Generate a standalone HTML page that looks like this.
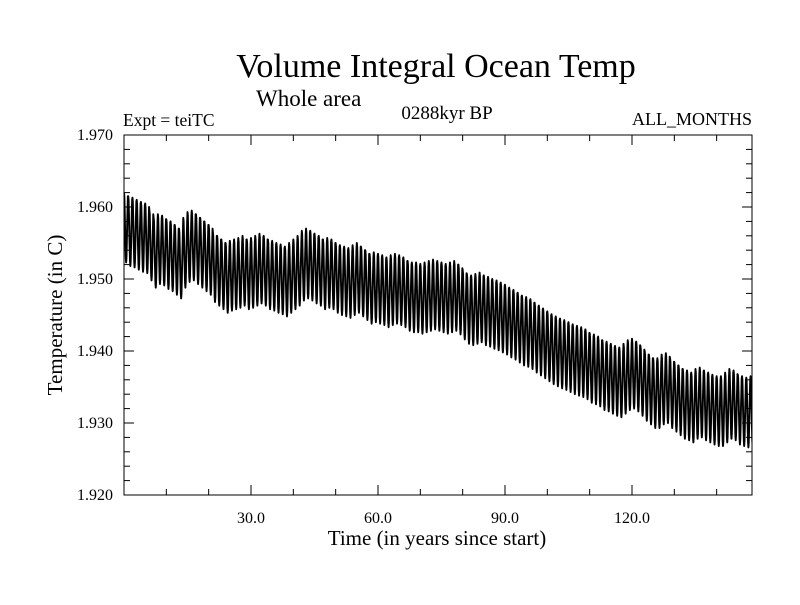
<!DOCTYPE html>
<html><head><meta charset="utf-8"><style>
html,body{margin:0;padding:0;background:#fff;}
svg text{font-family:"Liberation Serif",serif;fill:#000;}
</style></head><body>
<svg id="chart" width="800" height="600" xmlns="http://www.w3.org/2000/svg">
<text x="436" y="77" font-size="34" text-anchor="middle">Volume Integral Ocean Temp</text>
<text x="256" y="106" font-size="23">Whole area</text>
<text x="123" y="126" font-size="17.5">Expt = teiTC</text>
<text x="447" y="119" font-size="19" text-anchor="middle">0288kyr BP</text>
<text x="752" y="125" font-size="18" text-anchor="end">ALL_MONTHS</text>
<text x="437" y="545" font-size="21" text-anchor="middle">Time (in years since start)</text>
<text transform="translate(62,315) rotate(-90)" font-size="21" text-anchor="middle">Temperature (in C)</text>
<defs><clipPath id="pc"><rect x="124" y="135" width="628" height="360"/></clipPath></defs>
<g id="axes"></g>
<path id="series" clip-path="url(#pc)" fill="none" stroke="#000" stroke-width="1.9" stroke-linejoin="round"/>
<rect x="124" y="135" width="628" height="360" fill="none" stroke="#000" stroke-width="1"/>
</svg>
<script>
const annualMeans=[1.9575,1.957,1.9568,1.9565,1.9562,1.956,1.955,1.954,1.9545,1.9543,
1.9538,1.9535,1.953,1.9525,1.954,1.9548,1.955,1.9545,1.954,1.9535,
1.953,1.952,1.9515,1.951,1.9505,1.9508,1.951,1.9512,1.9515,1.951,
1.9512,1.9515,1.9518,1.9515,1.951,1.9508,1.9505,1.9503,1.95,1.9505,
1.951,1.9515,1.9522,1.9525,1.9522,1.9518,1.9515,1.951,1.9512,1.951,
1.9505,1.9502,1.95,1.9498,1.9502,1.9505,1.95,1.9495,1.949,1.9492,
1.949,1.9488,1.9485,1.9488,1.949,1.9488,1.9485,1.948,1.9478,1.9478,
1.9476,1.9478,1.948,1.9482,1.948,1.9478,1.9476,1.9478,1.948,1.9475,
1.9468,1.9462,1.946,1.9462,1.9464,1.946,1.9458,1.9455,1.9453,1.945,
1.9447,1.9443,1.944,1.9436,1.9432,1.943,1.9427,1.9422,1.9418,1.9414,
1.941,1.9406,1.9403,1.94,1.9398,1.9395,1.9392,1.939,1.9388,1.9385,
1.938,1.9378,1.9375,1.937,1.9368,1.9365,1.9362,1.936,1.9365,1.937,
1.9372,1.9368,1.9362,1.9355,1.935,1.9345,1.9345,1.935,1.9352,1.9345,
1.934,1.9335,1.933,1.9328,1.9325,1.933,1.9332,1.9328,1.9325,1.9322,
1.932,1.932,1.9325,1.933,1.9328,1.9322,1.932,1.9318,1.932,1.932];
const seasonalAnomaly=[0.0045,0.004,0.002,-0.0005,-0.0025,-0.0045,-0.0052,-0.0045,-0.0025,0,0.002,0.004];
const xTickValues=[30,60,90,120];
const xTickLabels=["30.0","60.0","90.0","120.0"];
const yTickValues=[1.92,1.93,1.94,1.95,1.96,1.97];
const yTickLabels=["1.920","1.930","1.940","1.950","1.960","1.970"];

const L=124,R=752,T=135,B=495,X0=0,X1=148.35,Y0=1.92,Y1=1.97;
const xs=v=>L+(v-X0)/(X1-X0)*(R-L);
const ys=v=>B-(v-Y0)/(Y1-Y0)*(B-T);
const NS="http://www.w3.org/2000/svg";
const ax=document.getElementById('axes');
function line(x1,y1,x2,y2,name){const l=document.createElementNS(NS,'line');
l.setAttribute('x1',x1);l.setAttribute('y1',y1);l.setAttribute('x2',x2);l.setAttribute('y2',y2);
l.setAttribute('stroke','#000');l.setAttribute('stroke-width','1');


ax.appendChild(l);}
function txt(x,y,s,anchor,name){const t=document.createElementNS(NS,'text');
t.setAttribute('x',x);t.setAttribute('y',y);t.setAttribute('font-size','16');t.setAttribute('text-anchor',anchor);t.textContent=s;


ax.appendChild(t);}
for(let v=10;v<X1;v+=10){const x=xs(v);const major=v%30===0;const len=major?10:6;
line(x,B,x,B-len,'x-tick');line(x,T,x,T+len,'x-tick-top');}
xTickValues.forEach((v,i)=>txt(xs(v),523,xTickLabels[i],'middle','x-tick-label'));
for(let k=0;k<=25;k++){const v=Y0+k*0.002;const y=ys(v);const major=k%5===0;const len=major?10:6;
line(L,y,L+len,y,'y-tick');line(R,y,R-len,y,'y-tick-right');}
yTickValues.forEach((v,i)=>txt(113,ys(v)+5,yTickLabels[i],'end','y-tick-label'));
let d='';
annualMeans.forEach((m,yr)=>{seasonalAnomaly.forEach((a,mo)=>{const x=xs(yr+mo/12),y=ys(m+a);
d+=(d?'L':'M')+x.toFixed(2)+','+y.toFixed(2);});});
document.getElementById('series').setAttribute('d',d);
</script>
</body></html>
